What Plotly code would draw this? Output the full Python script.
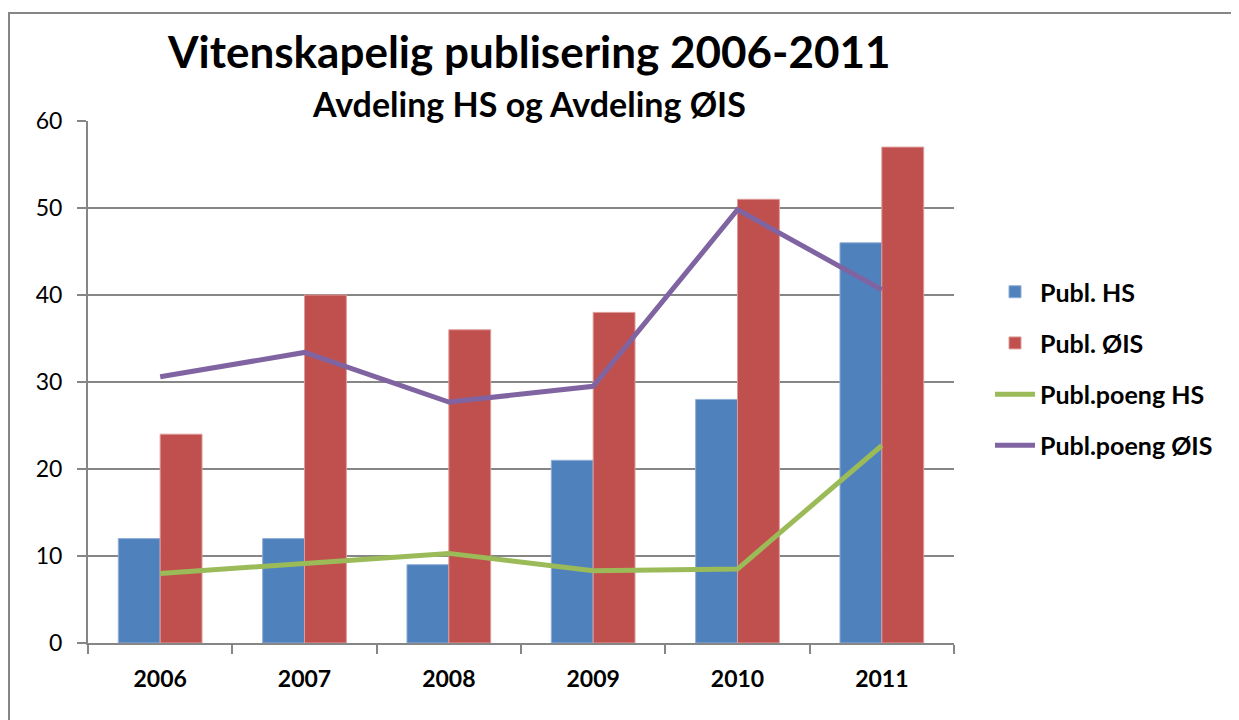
import plotly.graph_objects as go

years = ["2006", "2007", "2008", "2009", "2010", "2011"]
publ_hs = [12, 12, 9, 21, 28, 46]
publ_ois = [24, 40, 36, 38, 51, 57]
poeng_hs = [8.0, 9.1, 10.3, 8.3, 8.5, 22.7]
poeng_ois = [30.6, 33.4, 27.7, 29.5, 49.8, 40.6]

title = "Vitenskapelig publisering 2006-2011"
subtitle = "Avdeling HS og Avdeling ØIS"

FONT = "Lato"
GRID = "#868686"
OFF = 8  # page body margin

fig = go.Figure()
fig.add_trace(go.Bar(x=years, y=publ_hs, name="Publ. HS", legendgroup="a",
                     marker=dict(color="#4F81BD", line=dict(color="#8FAED6", width=1))))
fig.add_trace(go.Bar(x=years, y=publ_ois, name="Publ. ØIS", legendgroup="b",
                     marker=dict(color="#C0504D", line=dict(color="#DD9C9A", width=1))))
fig.add_trace(go.Scatter(x=years, y=poeng_hs, name="Publ.poeng HS", legendgroup="c",
                         mode="lines", line=dict(color="#9BBB59", width=5)))
fig.add_trace(go.Scatter(x=years, y=poeng_ois, name="Publ.poeng ØIS", legendgroup="d",
                         mode="lines", line=dict(color="#8064A2", width=5)))

W, H = 1239 - OFF, 720 - OFF
L, T = 88 - OFF, 121 - OFF
R = W - (954 - OFF)
B = H - (643 - OFF)
pw, ph = W - L - R, H - T - B

def px(x):
    return (x - OFF - L) / pw

def py(y):
    return (H - B - (y - OFF)) / ph

fig.update_layout(
    width=W, height=H,
    margin=dict(l=L, r=R, t=T, b=B),
    paper_bgcolor="white", plot_bgcolor="white",
    barmode="group", bargap=0.42, bargroupgap=0,
    font=dict(family=FONT, color="black"),
    showlegend=True,
    legend=dict(x=px(990), y=py(269), xanchor="left", yanchor="top",
                font=dict(family=FONT, size=25, color="black"),
                tracegroupgap=15.7, traceorder="grouped", itemwidth=40,
                bgcolor="rgba(0,0,0,0)"),
    xaxis=dict(type="category", showgrid=False, showline=True, linecolor=GRID, linewidth=2,
               ticks="outside", tickson="boundaries", ticklen=9, tickcolor=GRID, tickwidth=2,
               ticklabelstandoff=14,
               tickfont=dict(family=FONT, size=23, color="black"),
               tickprefix="<b>", ticksuffix="</b>"),
    yaxis=dict(range=[0, 60], dtick=10, showgrid=True, gridcolor=GRID, gridwidth=2,
               showline=True, linecolor=GRID, linewidth=2, zeroline=False,
               ticks="outside", ticklen=9, tickcolor=GRID, tickwidth=2,
               ticklabelstandoff=10,
               tickfont=dict(family=FONT, size=23, color="black")),
    annotations=[
        dict(text="<b>" + title + "</b>", xref="paper", yref="paper",
             x=px(529), y=py(51), xanchor="center", yanchor="middle",
             showarrow=False, font=dict(family=FONT, size=44, color="black")),
        dict(text="<b>" + subtitle + "</b>", xref="paper", yref="paper",
             x=px(529), y=py(104), xanchor="center", yanchor="middle",
             showarrow=False, font=dict(family=FONT, size=34, color="black")),
    ],
    shapes=[
        dict(type="rect", xref="paper", yref="paper",
             x0=px(9), y0=py(740), x1=px(1260), y1=py(13),
             line=dict(color=GRID, width=2), fillcolor="rgba(0,0,0,0)", layer="below"),
    ],
)
fig.for_each_trace(lambda t: t.update(name="<b>" + t.name + "</b>"))

fig.write_html("out.html")
